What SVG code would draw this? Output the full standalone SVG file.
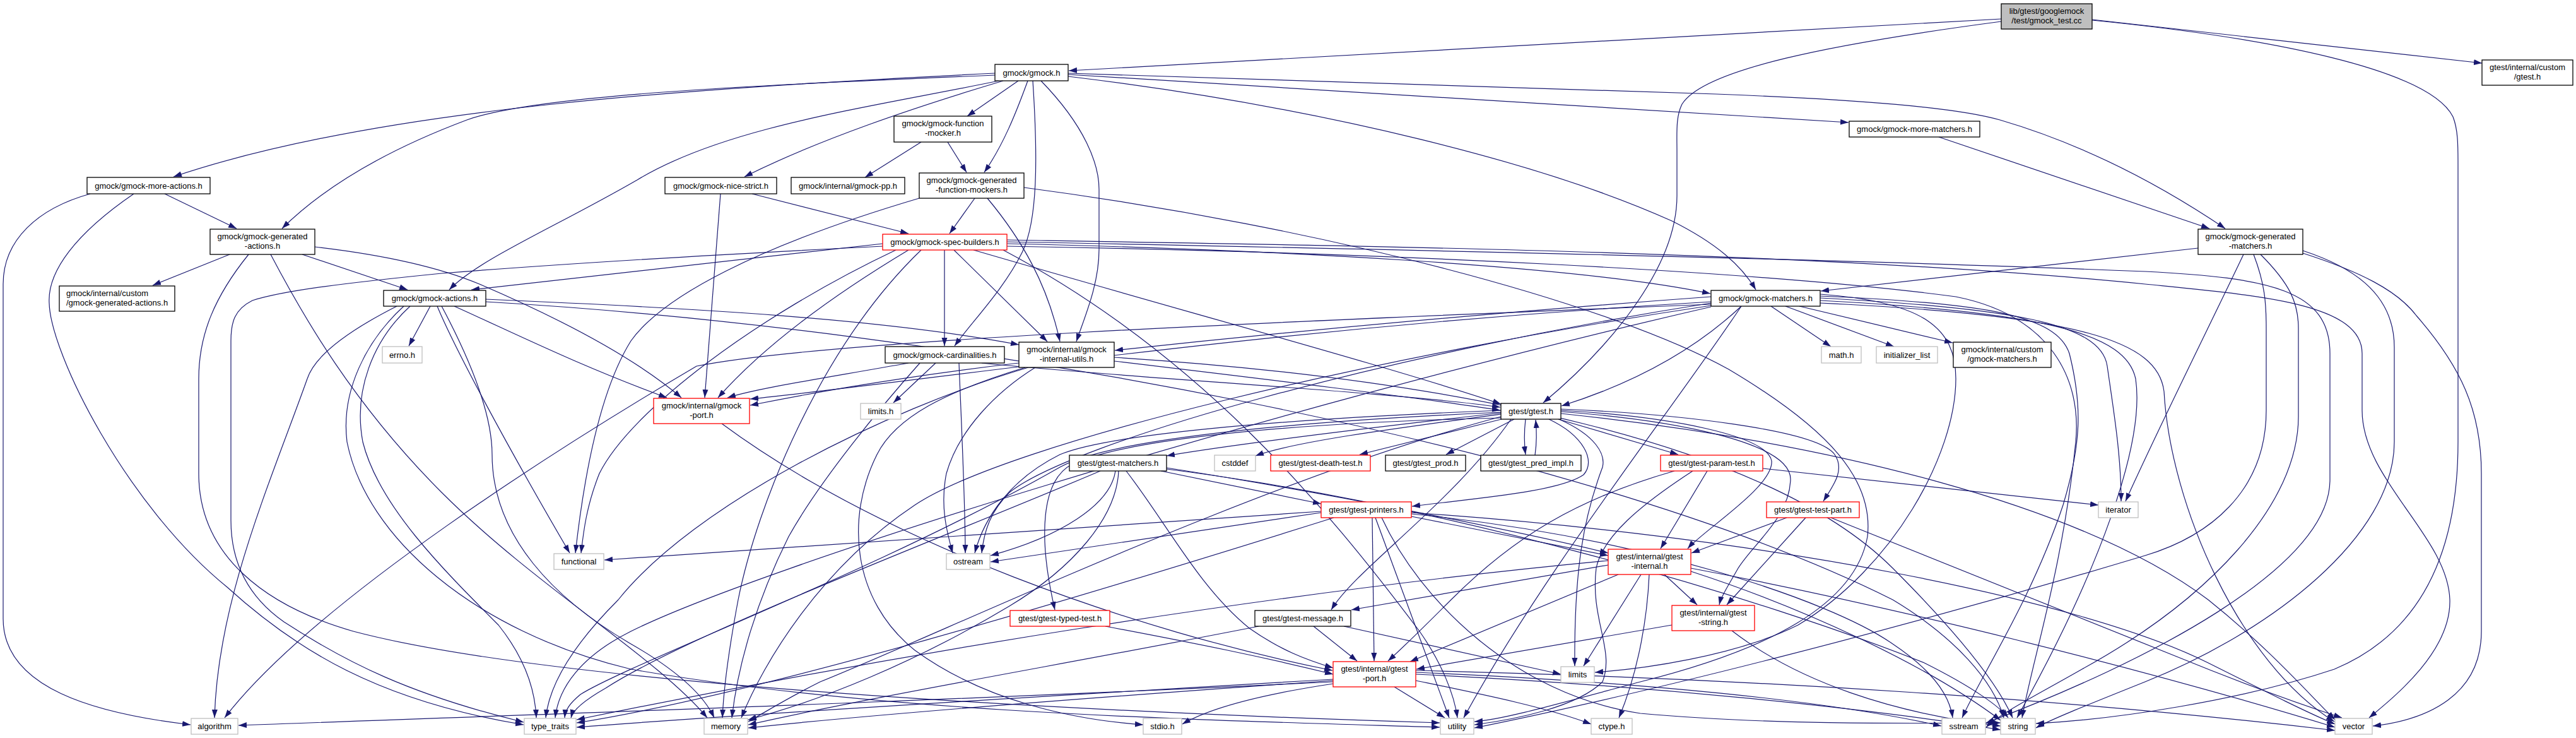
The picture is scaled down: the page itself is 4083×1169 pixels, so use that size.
<svg xmlns="http://www.w3.org/2000/svg" width="4083" height="1169" viewBox="0 0 4083 1169">
<defs>
<style>
.e{fill:none;stroke:#191970;stroke-width:1.2;marker-end:url(#ah)}
.b{fill:#fff;stroke:#000;stroke-width:1.3}
.r{fill:#fff;stroke:#ff0000;stroke-width:1.3}
.x{fill:#fff;stroke:#bfbfbf;stroke-width:1.3}
.rt{fill:#bfbfbf;stroke:#000;stroke-width:1.3}
text{font-family:"Liberation Sans",Arial,Helvetica,sans-serif;font-size:13px;fill:#000;text-anchor:middle}
text.l{text-anchor:start}
</style>
<marker id="ah" markerUnits="userSpaceOnUse" markerWidth="14" markerHeight="10" viewBox="0 0 14 10" refX="13" refY="5" orient="auto"><path d="M0,0.5 L13,5 L0,9.5 z" fill="#191970"/></marker>
</defs>
<rect width="4083" height="1169" fill="#fff"/>
<g id="edges">
<path class="e" d="M3172,30 L1694,112"/>
<path class="e" d="M3172,34 C2900,70 2700,110 2666,165 C2656,185 2658,210 2658,240 L2658,310 C2658,430 2540,560 2446,638"/>
<path class="e" d="M3316,32 C3600,60 3850,110 3888,185 C3896,205 3896,230 3896,260 L3896,700 C3896,900 3820,1010 3700,1060 C3550,1110 3350,1140 3227,1146"/>
<path class="e" d="M3316,31 L3934,100"/>
<path class="e" d="M1577,116 C1100,140 600,170 275,280"/>
<path class="e" d="M1577,119 C1200,135 850,150 740,190 C620,235 520,290 447,362"/>
<path class="e" d="M1583,128 C1380,170 1150,200 1010,285 C880,360 760,410 712,459"/>
<path class="e" d="M1590,128 C1450,170 1300,220 1180,280"/>
<path class="e" d="M1614,128 L1533,184"/>
<path class="e" d="M1629,128 C1610,180 1590,230 1560,273"/>
<path class="e" d="M1637,128 C1645,250 1645,350 1620,400 C1590,460 1540,510 1513,548"/>
<path class="e" d="M1650,128 C1720,200 1742,260 1742,300 L1742,395 C1742,450 1720,500 1706,541"/>
<path class="e" d="M1693,118 L2930,194"/>
<path class="e" d="M1693,116 L2720,149 C2950,158 3100,170 3170,190 C3300,228 3420,290 3527,362"/>
<path class="e" d="M1693,121 C2100,170 2450,260 2650,350 C2720,385 2760,420 2783,459"/>
<path class="e" d="M143,307 C60,330 5,380 5,450 L5,980 C5,1090 150,1130 302,1148"/>
<path class="e" d="M212,307 C120,370 75,430 78,480 C80,560 200,800 360,930 C470,1030 600,1110 830,1148"/>
<path class="e" d="M261,307 L375,362"/>
<path class="e" d="M364,403 L242,452"/>
<path class="e" d="M429,403 C480,500 560,640 700,780 C850,930 1040,1040 1121,1137"/>
<path class="e" d="M394,403 C340,470 315,530 315,600 L315,750 C315,880 420,960 560,1000 C900,1090 1800,1130 2282,1145"/>
<path class="e" d="M479,403 L646,459"/>
<path class="e" d="M499,391 C620,405 700,425 760,450 C900,510 1010,570 1080,630"/>
<path class="e" d="M682,485 L648,548"/>
<path class="e" d="M629,485 C560,520 500,560 487,600 C430,760 345,950 340,1137"/>
<path class="e" d="M693,485 C720,550 800,700 903,876"/>
<path class="e" d="M700,485 C740,560 780,650 780,720 C780,850 880,950 1000,1020 C1070,1060 1115,1100 1132,1137"/>
<path class="e" d="M650,485 C590,540 560,620 575,700 C600,800 700,900 790,990 C830,1040 848,1090 850,1137"/>
<path class="e" d="M640,485 C580,540 540,620 550,700 C580,850 750,1000 1000,1060 C1400,1130 1900,1140 2282,1152"/>
<path class="e" d="M770,478 C1500,520 2500,700 3000,950 C3100,1010 3160,1080 3176,1137"/>
<path class="e" d="M770,474 C1100,488 1400,505 1615,546"/>
<path class="e" d="M720,485 C820,530 920,580 1057,630"/>
<path class="e" d="M1483,575 L1416,638"/>
<path class="e" d="M1440,575 C1300,600 1200,615 1153,630"/>
<path class="e" d="M1458,575 C1400,640 1300,760 1250,850 C1200,950 1170,1050 1160,1137"/>
<path class="e" d="M1520,575 C1525,700 1530,800 1530,876"/>
<path class="e" d="M1556,575 C1800,600 2200,620 2378,645"/>
<path class="e" d="M1625,582 C1500,620 1420,660 1390,720 C1340,820 1350,950 1450,1030 C1560,1110 1700,1140 1812,1148"/>
<path class="e" d="M1641,582 C1580,620 1520,680 1500,750 C1490,800 1500,840 1510,876"/>
<path class="e" d="M1766,566 C2300,600 2800,700 3000,900 C3100,1000 3165,1080 3190,1137"/>
<path class="e" d="M1630,582 C1400,650 1100,800 980,950 C900,1030 870,1090 865,1137"/>
<path class="e" d="M1615,575 C1400,600 1250,630 1189,642"/>
<path class="e" d="M1766,572 C2000,600 2250,630 2378,650"/>
<path class="e" d="M2807,485 L2902,549"/>
<path class="e" d="M2830,485 L3002,549"/>
<path class="e" d="M2852,485 L3095,543"/>
<path class="e" d="M2712,470 C2300,500 2000,530 1767,555"/>
<path class="e" d="M2760,485 C2680,560 2580,610 2475,643"/>
<path class="e" d="M2712,478 C2000,520 1500,600 1189,632"/>
<path class="e" d="M2712,482 C2000,510 1300,540 1104,580 C900,700 500,950 356,1137"/>
<path class="e" d="M2885,472 C3180,488 3330,510 3340,580 C3350,650 3362,720 3362,794"/>
<path class="e" d="M2885,466 C3050,478 3100,520 3100,600 C3100,720 3000,900 2850,990 C2750,1040 2600,1060 2528,1065"/>
<path class="e" d="M2712,484 C2200,560 1600,700 1450,800 C1300,900 1210,1050 1175,1137"/>
<path class="e" d="M2712,480 C2200,560 1700,700 1600,780 C1570,810 1560,840 1556,876"/>
<path class="e" d="M2885,469 C3150,480 3260,500 3280,560 C3300,640 3300,700 3270,800 C3220,950 3140,1070 3110,1137"/>
<path class="e" d="M2885,476 C3250,495 3370,530 3385,600 C3400,700 3330,900 3197,1137"/>
<path class="e" d="M2712,486 C2000,650 1200,900 1000,1000 C920,1040 885,1090 880,1137"/>
<path class="e" d="M2760,485 C2650,650 2450,900 2320,1137"/>
<path class="e" d="M2885,480 C3300,500 3420,540 3430,620 C3440,800 3550,1050 3700,1143"/>
<path class="e" d="M1399,386 L747,459"/>
<path class="e" d="M1497,396 L1497,548"/>
<path class="e" d="M1512,396 L1660,541"/>
<path class="e" d="M1543,396 C1900,500 2200,580 2379,640"/>
<path class="e" d="M1596,386 C2000,395 2500,420 2711,465"/>
<path class="e" d="M1596,380 C2200,390 2900,400 3400,450 C3580,468 3744,480 3744,560 L3744,650 C3744,760 3880,850 3883,950 C3885,1030 3800,1100 3755,1137"/>
<path class="e" d="M1596,383 C2200,395 2900,410 3400,430 C3600,440 3693,460 3693,560 L3693,760 C3693,900 3400,1050 3148,1145"/>
<path class="e" d="M1596,390 C2200,400 2800,430 3100,470 C3250,500 3300,600 3290,700 C3270,900 3220,1050 3205,1137"/>
<path class="e" d="M1590,396 C1900,560 2100,800 2250,1000 C2285,1050 2305,1100 2310,1137"/>
<path class="e" d="M1420,396 C1200,500 1000,650 950,750 C930,800 925,840 921,876"/>
<path class="e" d="M1460,396 C1300,550 1200,800 1170,950 C1155,1030 1147,1090 1145,1137"/>
<path class="e" d="M1399,390 C1000,410 800,425 700,433 C550,448 450,460 400,476 C372,490 366,510 366,540 L366,824 C366,900 400,950 450,985 C550,1050 650,1100 830,1144"/>
<path class="e" d="M1440,396 C1300,480 1200,560 1138,630"/>
<path class="e" d="M1545,314 L1505,370"/>
<path class="e" d="M1565,314 C1620,380 1660,450 1680,541"/>
<path class="e" d="M1457,314 C1200,390 1050,470 1000,540 C950,620 925,760 912,876"/>
<path class="e" d="M1623,297 C2100,360 2550,480 2740,585 C2900,680 2970,760 2960,850 C2940,960 2800,1030 2600,1080 C2450,1120 2380,1140 2337,1143"/>
<path class="e" d="M1502,225 L1532,273"/>
<path class="e" d="M1460,225 L1371,281"/>
<path class="e" d="M1192,307 L1440,370"/>
<path class="e" d="M1142,307 L1117,630"/>
<path class="e" d="M3484,393 L2886,461"/>
<path class="e" d="M3556,403 C3510,500 3420,680 3369,794"/>
<path class="e" d="M3572,403 C3590,450 3592,480 3592,520 L3592,650 C3592,780 3500,850 3400,880 C3000,1000 2600,1100 2337,1153"/>
<path class="e" d="M3583,403 C3630,450 3643,480 3643,520 L3643,660 C3643,800 3500,950 3300,1060 C3230,1100 3170,1130 3148,1152"/>
<path class="e" d="M3650,397 C3720,420 3795,460 3795,550 L3795,700 C3795,850 3600,1000 3400,1080 C3300,1120 3250,1140 3227,1153"/>
<path class="e" d="M3650,401 C3740,430 3800,460 3830,500 C3900,580 3933,650 3933,750 L3933,1000 C3933,1100 3850,1140 3761,1150"/>
<path class="e" d="M3073,217 L3502,362"/>
<path class="e" d="M1144,671 C1400,860 1800,1000 2112,1062"/>
<path class="e" d="M2379,656 C2200,680 2050,700 1990,722"/>
<path class="e" d="M2379,654 C2150,680 1950,705 1849,722"/>
<path class="e" d="M2380,664 L2155,720"/>
<path class="e" d="M2400,664 L2292,720"/>
<path class="e" d="M2418,664 C2415,690 2416,705 2418,720"/>
<path class="e" d="M2433,721 C2436,700 2436,685 2434,665"/>
<path class="e" d="M2470,664 L2660,720"/>
<path class="e" d="M2455,664 C2510,690 2530,730 2510,752 C2470,780 2330,790 2238,802"/>
<path class="e" d="M2471,664 C2530,690 2545,720 2540,740 C2510,820 2495,900 2496,1055"/>
<path class="e" d="M2474,650 C2650,660 2800,690 2808,730 C2812,770 2700,840 2675,869"/>
<path class="e" d="M2474,652 C2650,665 2840,700 2838,760 C2836,820 2780,860 2755,900 C2738,930 2728,945 2725,958"/>
<path class="e" d="M2474,648 C2650,655 2880,680 2908,720 C2925,745 2905,770 2890,794"/>
<path class="e" d="M2474,655 C2900,700 3300,800 3500,950 C3600,1030 3660,1100 3701,1140"/>
<path class="e" d="M2379,660 C2000,760 1500,1000 1300,1080 C1240,1110 1210,1130 1186,1143"/>
<path class="e" d="M2379,650 C2000,665 1750,690 1680,720 C1600,760 1560,820 1545,876"/>
<path class="e" d="M2379,653 C2000,670 1750,700 1680,740 C1400,900 1000,1050 920,1100 C902,1115 896,1125 895,1137"/>
<path class="e" d="M2395,664 C2300,800 2150,900 2110,966"/>
<path class="e" d="M2379,662 C2100,668 1800,690 1700,735 C1650,760 1645,850 1672,966"/>
<path class="e" d="M1768,746 C1760,800 1680,850 1570,880"/>
<path class="e" d="M1773,746 C1770,820 1700,900 1600,960 C1450,1050 1300,1110 1186,1140"/>
<path class="e" d="M1744,746 C1500,850 1100,1000 960,1090 C925,1110 908,1125 905,1137"/>
<path class="e" d="M1785,746 C1850,830 1900,930 1980,995 C2030,1030 2070,1045 2113,1058"/>
<path class="e" d="M1840,746 L2094,798"/>
<path class="e" d="M1849,741 C2100,780 2400,840 2549,876"/>
<path class="e" d="M1849,743 C2300,800 2800,950 3050,1050 C3130,1090 3170,1120 3183,1137"/>
<path class="e" d="M2094,810 L958,887"/>
<path class="e" d="M2094,812 L1570,890"/>
<path class="e" d="M2175,820 L2178,1047"/>
<path class="e" d="M2180,820 L2297,1137"/>
<path class="e" d="M2190,820 C2250,950 2400,1100 2600,1130 C2800,1148 3000,1146 3171,1145"/>
<path class="e" d="M2237,818 L2549,880"/>
<path class="e" d="M2237,812 C2800,850 3300,950 3500,1050 C3600,1100 3660,1130 3701,1147"/>
<path class="e" d="M2237,814 C2600,850 2900,950 3000,1020 C3060,1060 3090,1100 3095,1137"/>
<path class="e" d="M2114,820 C1700,950 1200,1100 914,1145"/>
<path class="e" d="M2794,742 L3326,800"/>
<path class="e" d="M2706,746 L2632,869"/>
<path class="e" d="M2683,746 C2600,800 2540,850 2530,900 C2520,980 2560,1030 2540,1080 C2500,1120 2400,1140 2337,1148"/>
<path class="e" d="M2654,746 C2500,790 2400,850 2300,950 C2260,990 2230,1020 2200,1047"/>
<path class="e" d="M2832,820 L2681,876"/>
<path class="e" d="M2862,820 L2737,958"/>
<path class="e" d="M2902,820 C3100,900 3300,980 3450,1040 C3560,1085 3660,1120 3712,1137"/>
<path class="e" d="M1752,992 C1900,1020 2000,1040 2113,1068"/>
<path class="e" d="M2082,992 L2151,1047"/>
<path class="e" d="M2130,992 L2474,1068"/>
<path class="e" d="M1995,992 C1700,1050 1400,1100 1186,1148"/>
<path class="e" d="M2549,895 L2142,966"/>
<path class="e" d="M2549,888 C2000,940 1400,1040 914,1140"/>
<path class="e" d="M2565,910 L2235,1048"/>
<path class="e" d="M2601,910 L2510,1055"/>
<path class="e" d="M2614,910 C2610,1000 2590,1080 2566,1137"/>
<path class="e" d="M2638,910 L2690,958"/>
<path class="e" d="M2680,905 C2850,960 3050,1050 3171,1141"/>
<path class="e" d="M2680,900 C3000,960 3400,1060 3701,1152"/>
<path class="e" d="M2650,990 L2245,1060"/>
<path class="e" d="M2745,999 C2850,1080 3000,1130 3171,1150"/>
<path class="e" d="M2113,1080 C1500,1110 900,1130 378,1149"/>
<path class="e" d="M2113,1076 C1700,1100 1200,1130 914,1152"/>
<path class="e" d="M2113,1078 C1800,1100 1400,1130 1186,1153"/>
<path class="e" d="M2113,1083 C2000,1100 1920,1120 1874,1147"/>
<path class="e" d="M2210,1088 L2290,1137"/>
<path class="e" d="M2244,1078 C2350,1100 2450,1120 2522,1147"/>
<path class="e" d="M2244,1065 C2600,1080 2900,1110 3077,1150"/>
<path class="e" d="M2244,1068 C2600,1085 2950,1120 3171,1156"/>
<path class="e" d="M2244,1062 C2800,1075 3300,1110 3701,1157"/>
</g>
<g id="node-root"><rect class="rt" x="3172" y="6" width="144" height="40"/><text x="3244" y="22">lib/gtest/googlemock</text><text x="3244" y="37">/test/gmock_test.cc</text></g>
<g id="node-gmock"><rect class="b" x="1577" y="102" width="116" height="26"/><text x="1635" y="119.5">gmock/gmock.h</text></g>
<g id="node-custom-gtest"><rect class="b" x="3934" y="95" width="144" height="40"/><text x="4006" y="111">gtest/internal/custom</text><text x="4006" y="126">/gtest.h</text></g>
<g id="node-more-actions"><rect class="b" x="138" y="281" width="195" height="26"/><text x="235.5" y="298.5">gmock/gmock-more-actions.h</text></g>
<g id="node-generated-actions"><rect class="b" x="333" y="363" width="166" height="40"/><text x="416" y="379">gmock/gmock-generated</text><text x="416" y="394">-actions.h</text></g>
<g id="node-custom-generated-actions"><rect class="b" x="94" y="453" width="183" height="40"/><text class="l" x="105" y="469">gmock/internal/custom</text><text class="l" x="105" y="484">/gmock-generated-actions.h</text></g>
<g id="node-actions"><rect class="b" x="608" y="460" width="162" height="25"/><text x="689" y="477">gmock/gmock-actions.h</text></g>
<g id="node-errno"><rect class="x" x="606" y="549" width="63" height="26"/><text x="637.5" y="566.5">errno.h</text></g>
<g id="node-nice-strict"><rect class="b" x="1054" y="281" width="177" height="26"/><text x="1142.5" y="298.5">gmock/gmock-nice-strict.h</text></g>
<g id="node-pp"><rect class="b" x="1254" y="281" width="180" height="26"/><text x="1344" y="298.5">gmock/internal/gmock-pp.h</text></g>
<g id="node-function-mocker"><rect class="b" x="1417" y="184" width="155" height="41"/><text x="1494.5" y="200">gmock/gmock-function</text><text x="1494.5" y="215">-mocker.h</text></g>
<g id="node-generated-function-mockers"><rect class="b" x="1457" y="274" width="166" height="40"/><text x="1540" y="290">gmock/gmock-generated</text><text x="1540" y="305">-function-mockers.h</text></g>
<g id="node-spec-builders"><rect class="r" x="1399" y="371" width="197" height="25"/><text x="1497.5" y="388">gmock/gmock-spec-builders.h</text></g>
<g id="node-cardinalities"><rect class="b" x="1403" y="549" width="189" height="26"/><text x="1497.5" y="566.5">gmock/gmock-cardinalities.h</text></g>
<g id="node-internal-utils"><rect class="b" x="1615" y="542" width="151" height="40"/><text x="1690.5" y="558">gmock/internal/gmock</text><text x="1690.5" y="573">-internal-utils.h</text></g>
<g id="node-more-matchers"><rect class="b" x="2931" y="192" width="207" height="25"/><text x="3034.5" y="209">gmock/gmock-more-matchers.h</text></g>
<g id="node-matchers"><rect class="b" x="2712" y="460" width="173" height="25"/><text x="2798.5" y="477">gmock/gmock-matchers.h</text></g>
<g id="node-math"><rect class="x" x="2887" y="549" width="63" height="26"/><text x="2918.5" y="566.5">math.h</text></g>
<g id="node-initializer-list"><rect class="x" x="2974" y="549" width="97" height="26"/><text x="3022.5" y="566.5">initializer_list</text></g>
<g id="node-custom-matchers"><rect class="b" x="3096" y="542" width="155" height="40"/><text x="3173.5" y="558">gmock/internal/custom</text><text x="3173.5" y="573">/gmock-matchers.h</text></g>
<g id="node-generated-matchers"><rect class="b" x="3484" y="363" width="166" height="40"/><text x="3567" y="379">gmock/gmock-generated</text><text x="3567" y="394">-matchers.h</text></g>
<g id="node-gmock-port"><rect class="r" x="1036" y="631" width="152" height="40"/><text x="1112" y="647">gmock/internal/gmock</text><text x="1112" y="662">-port.h</text></g>
<g id="node-limits-h"><rect class="x" x="1364" y="639" width="64" height="25"/><text x="1396" y="656">limits.h</text></g>
<g id="node-functional"><rect class="x" x="878" y="877" width="79" height="25"/><text x="917.5" y="894">functional</text></g>
<g id="node-ostream"><rect class="x" x="1500" y="877" width="69" height="25"/><text x="1534.5" y="894">ostream</text></g>
<g id="node-gtest"><rect class="b" x="2379" y="639" width="95" height="25"/><text x="2426.5" y="656">gtest/gtest.h</text></g>
<g id="node-gtest-matchers"><rect class="b" x="1695" y="721" width="154" height="25"/><text x="1772" y="738">gtest/gtest-matchers.h</text></g>
<g id="node-cstddef"><rect class="x" x="1925" y="721" width="65" height="25"/><text x="1957.5" y="738">cstddef</text></g>
<g id="node-death-test"><rect class="r" x="2014" y="721" width="158" height="25"/><text x="2093" y="738">gtest/gtest-death-test.h</text></g>
<g id="node-prod"><rect class="b" x="2196" y="721" width="127" height="25"/><text x="2259.5" y="738">gtest/gtest_prod.h</text></g>
<g id="node-pred-impl"><rect class="b" x="2347" y="721" width="159" height="25"/><text x="2426.5" y="738">gtest/gtest_pred_impl.h</text></g>
<g id="node-param-test"><rect class="r" x="2632" y="721" width="162" height="25"/><text x="2713" y="738">gtest/gtest-param-test.h</text></g>
<g id="node-printers"><rect class="r" x="2094" y="795" width="143" height="25"/><text x="2165.5" y="812">gtest/gtest-printers.h</text></g>
<g id="node-test-part"><rect class="r" x="2800" y="795" width="147" height="25"/><text x="2873.5" y="812">gtest/gtest-test-part.h</text></g>
<g id="node-iterator"><rect class="x" x="3326" y="795" width="63" height="25"/><text x="3357.5" y="812">iterator</text></g>
<g id="node-gtest-internal"><rect class="r" x="2549" y="870" width="131" height="40"/><text x="2614.5" y="886">gtest/internal/gtest</text><text x="2614.5" y="901">-internal.h</text></g>
<g id="node-typed-test"><rect class="r" x="1601" y="967" width="158" height="25"/><text x="1680" y="984">gtest/gtest-typed-test.h</text></g>
<g id="node-message"><rect class="b" x="1989" y="967" width="152" height="25"/><text x="2065" y="984">gtest/gtest-message.h</text></g>
<g id="node-gtest-string"><rect class="r" x="2650" y="959" width="131" height="40"/><text x="2715.5" y="975">gtest/internal/gtest</text><text x="2715.5" y="990">-string.h</text></g>
<g id="node-gtest-port"><rect class="r" x="2113" y="1048" width="131" height="40"/><text x="2178.5" y="1064">gtest/internal/gtest</text><text x="2178.5" y="1079">-port.h</text></g>
<g id="node-limits"><rect class="x" x="2474" y="1056" width="53" height="25"/><text x="2500.5" y="1073">limits</text></g>
<g id="node-algorithm"><rect class="x" x="303" y="1138" width="74" height="25"/><text x="340" y="1155">algorithm</text></g>
<g id="node-type-traits"><rect class="x" x="831" y="1138" width="82" height="25"/><text x="872" y="1155">type_traits</text></g>
<g id="node-memory"><rect class="x" x="1116" y="1138" width="69" height="25"/><text x="1150.5" y="1155">memory</text></g>
<g id="node-stdio"><rect class="x" x="1812" y="1138" width="61" height="25"/><text x="1842.5" y="1155">stdio.h</text></g>
<g id="node-utility"><rect class="x" x="2283" y="1138" width="53" height="25"/><text x="2309.5" y="1155">utility</text></g>
<g id="node-ctype"><rect class="x" x="2522" y="1138" width="65" height="25"/><text x="2554.5" y="1155">ctype.h</text></g>
<g id="node-sstream"><rect class="x" x="3078" y="1138" width="69" height="25"/><text x="3112.5" y="1155">sstream</text></g>
<g id="node-string"><rect class="x" x="3171" y="1138" width="55" height="25"/><text x="3198.5" y="1155">string</text></g>
<g id="node-vector"><rect class="x" x="3701" y="1138" width="59" height="25"/><text x="3730.5" y="1155">vector</text></g>
</svg>
